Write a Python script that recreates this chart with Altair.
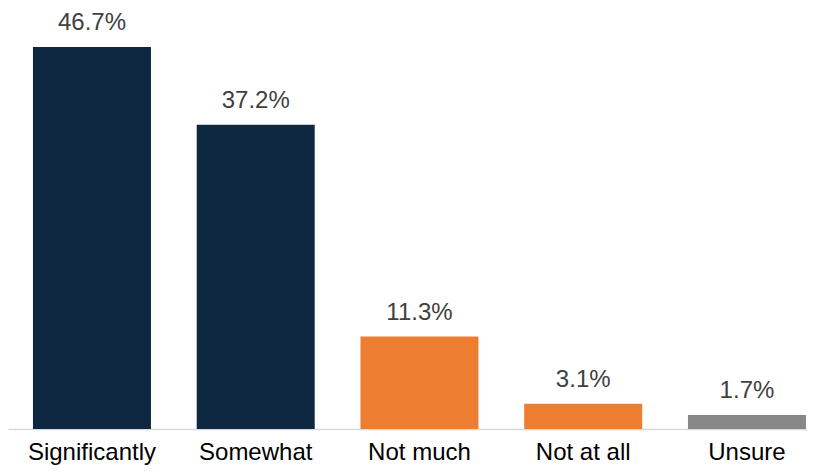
import altair as alt
import pandas as pd

categories = ["Significantly", "Somewhat", "Not much", "Not at all", "Unsure"]
values = [46.7, 37.2, 11.3, 3.1, 1.7]
labels = ["46.7%", "37.2%", "11.3%", "3.1%", "1.7%"]
colors = ["#0E2841", "#0E2841", "#ED7D31", "#ED7D31", "#888888"]

df = pd.DataFrame({"cat": categories, "val": values, "lab": labels, "col": colors})

x = alt.X(
    "cat:N",
    sort=None,
    title=None,
    scale=alt.Scale(paddingInner=0.2794, paddingOuter=0.0794, align=0.96),
    axis=alt.Axis(
        labelAngle=0,
        labelFont="Liberation Sans",
        labelFontSize=24,
        labelColor="#000000",
        labelBaseline="alphabetic",
        labelPadding=30,
        ticks=False,
        domainColor="#D9D9D9",
        domainWidth=1.5,
        grid=False,
    ),
)
y = alt.Y("val:Q", scale=alt.Scale(domain=[0, 51.22]), axis=None)

bars = alt.Chart(df).mark_bar().encode(x=x, y=y, color=alt.Color("col:N", scale=None))
text = alt.Chart(df).mark_text(
    font="Liberation Sans", fontSize=24, color="#404040", baseline="alphabetic", dy=-17
).encode(x=x, y=y, text="lab:N")

chart = (
    (bars + text)
    .properties(
        width=799,
        height=419,
        autosize=alt.AutoSizeParams(type="none"),
        padding={"left": 0, "top": 2, "right": 0, "bottom": 36},
    )
    .configure(view=alt.ViewConfig(stroke=None))
)
chart.save("out.html", embed_options={"renderer": "svg", "actions": False})
